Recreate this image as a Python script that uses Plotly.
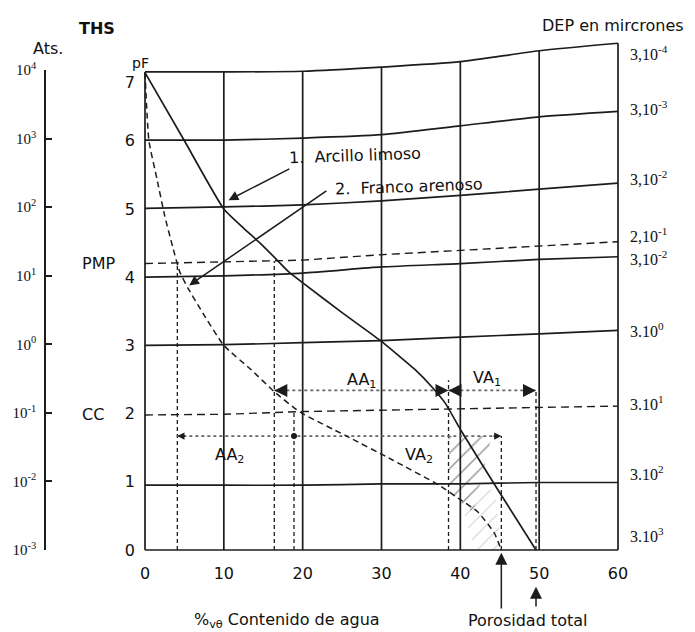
import numpy as np
import plotly.graph_objects as go

# ---------------- data ----------------
grid_x = [0, 10, 20, 30, 40, 50, 60]
x_tick_labels = ["0", "10", "20", "30", "40", "50", "60"]
pf_levels = [0, 1, 2, 3, 4, 5, 6, 7]
pf_tick_labels = ["0", "1", "2", "3", "4", "5", "6", "7"]
ats_labels = ["10<sup>-3</sup>", "10<sup>-2</sup>", "10<sup>-1</sup>", "10<sup>0</sup>",
              "10<sup>1</sup>", "10<sup>2</sup>", "10<sup>3</sup>", "10<sup>4</sup>"]
dep_labels = ["3,10<sup>-4</sup>", "3,10<sup>-3</sup>", "3,10<sup>-2</sup>", "2,10<sup>-1</sup>",
              "3,10<sup>-2</sup>", "3.10<sup>0</sup>", "3.10<sup>1</sup>", "3.10<sup>2</sup>",
              "3.10<sup>3</sup>"]

# reference lines as drawn (pF value of the line at each grid_x)
line_pf7 = [7.01, 7.01, 7.02, 7.08, 7.16, 7.32, 7.43]
line_pf6 = [6.01, 6.01, 6.04, 6.09, 6.22, 6.35, 6.43]
line_pf5 = [5.01, 5.03, 5.06, 5.12, 5.20, 5.29, 5.38]
line_pf4 = [4.00, 4.02, 4.06, 4.15, 4.20, 4.26, 4.30]
line_pf3 = [3.00, 3.01, 3.04, 3.07, 3.12, 3.17, 3.22]
line_pf1 = [0.95, 0.95, 0.95, 0.97, 0.97, 0.99, 0.99]
line_pf0 = [0, 0, 0, 0, 0, 0, 0]
line_pmp = [4.20, 4.22, 4.25, 4.33, 4.39, 4.45, 4.52]
line_cc = [1.98, 1.99, 2.03, 2.05, 2.08, 2.10, 2.11]

# 1. Arcillo limoso (solid)
soil1_x = [0, 5, 10, 12.5, 14.6, 16.6, 18.2, 20.1, 25, 29.75, 34.3, 36.4, 38.1, 40.2, 45, 49.6]
soil1_pf = [7.0, 6.0, 5.0, 4.72, 4.5, 4.27, 4.08, 3.91, 3.48, 3.08, 2.64, 2.39, 2.15, 1.73, 0.84, 0.0]
# 2. Franco arenoso (dashed)
soil2_x = [0, 0.5, 1.5, 2.5, 3.5, 4.4, 5.5, 7.1, 10, 13.5, 16.4, 19.7, 25.4, 31.4, 37.3, 40.1, 42.2, 44.3, 45.2]
soil2_pf = [7.0, 6.0, 5.45, 4.9, 4.45, 4.08, 3.83, 3.52, 3.0, 2.64, 2.32, 2.02, 1.68, 1.32, 0.95, 0.73, 0.56, 0.25, 0.0]

# water contents (%) at PMP, CC and total porosity
soil1_pmp, soil1_cc, soil1_pt = 16.4, 38.5, 49.6
soil2_pmp, soil2_cc, soil2_pt = 4.1, 18.9, 45.2
level_1 = 2.34   # AA1 / VA1 arrows (pF)
level_2 = 1.67   # AA2 / VA2 arrows (pF)

# ---------------- figure ----------------
INK = "#1c1c1c"
OFF = 8                       # page body margin
W, H = 695 - OFF, 632 - OFF   # figure size so that it fills the window
X0PX, X60PX = 145 - OFF, 618 - OFF
PF0PX, PXPF = 550 - OFF, 68.2
pxu = (X60PX - X0PX) / 60.0
xr = [-X0PX / pxu, (W - X0PX) / pxu]
yr = [-(H - PF0PX) / PXPF, PF0PX / PXPF]

fig = go.Figure()

def seg_trace(xs, ys, width=1.6, dash="solid", color=INK):
    fig.add_trace(go.Scatter(x=xs, y=ys, mode="lines", hoverinfo="skip", showlegend=False,
                             line=dict(color=color, width=width, dash=dash)))

# hatching
fig.add_trace(go.Scatter(
    x=[soil1_cc, 44.0, 41.6, soil1_cc, soil1_cc], y=[level_2, level_2, 0.55, 0.85, level_2],
    mode="lines", fill="toself", line=dict(width=0), hoverinfo="skip", showlegend=False,
    fillcolor="rgba(0,0,0,0)",
    fillpattern=dict(shape="/", size=11, solidity=0.13, fgcolor="#2a2a2a", bgcolor="rgba(0,0,0,0)")))
fig.add_trace(go.Scatter(
    x=[40.0, 44.4, soil2_pt, 41.8, 40.0], y=[0.75, 0.9, 0.0, 0.0, 0.75],
    mode="lines", fill="toself", line=dict(width=0), hoverinfo="skip", showlegend=False,
    fillcolor="rgba(0,0,0,0)",
    fillpattern=dict(shape="/", size=11, solidity=0.09, fgcolor="#999", bgcolor="rgba(0,0,0,0)")))

# horizontal reference lines
for ln in [line_pf7, line_pf6, line_pf5, line_pf4, line_pf3, line_pf1, line_pf0]:
    fig.add_trace(go.Scatter(x=grid_x, y=ln, mode="lines", hoverinfo="skip", showlegend=False,
                             line=dict(color=INK, width=1.7, shape="spline", smoothing=0.6)))
for ln in [line_pmp, line_cc]:
    fig.add_trace(go.Scatter(x=grid_x, y=ln, mode="lines", hoverinfo="skip", showlegend=False,
                             line=dict(color=INK, width=1.4, dash="8px,5px")))

# vertical grid lines up to the curved top line
vx, vy = [], []
for v in grid_x:
    vx += [v, v, None]
    vy += [0, float(np.interp(v, grid_x, line_pf7)), None]
seg_trace(vx, vy, width=1.7)

# drop lines
drops = [
    (soil2_pmp, float(np.interp(soil2_pmp, grid_x, line_pmp))),
    (soil1_pmp, float(np.interp(soil1_pmp, grid_x, line_pmp))),
    (soil2_cc, float(np.interp(soil2_cc, grid_x, line_cc))),
    (soil1_cc, level_1 + 0.15),
    (soil2_pt, level_2),
    (soil1_pt, level_1),
]
dx, dy = [], []
for xv, top in drops:
    dx += [xv, xv, None]
    dy += [0, top, None]
seg_trace(dx, dy, width=1.3, dash="4px,3px")

# dotted arrow lines AA / VA
seg_trace([soil1_pmp, soil1_pt, None, soil2_pmp, soil2_pt],
          [level_1, level_1, None, level_2, level_2], width=1.6, dash="dot", color="#666")
fig.add_trace(go.Scatter(x=[soil2_cc], y=[level_2], mode="markers", hoverinfo="skip", showlegend=False,
                         marker=dict(color=INK, size=6)))

# curves
fig.add_trace(go.Scatter(x=soil1_x, y=soil1_pf, mode="lines", name="1. Arcillo limoso",
                         showlegend=False, line=dict(color=INK, width=1.7, shape="spline", smoothing=0.5)))
fig.add_trace(go.Scatter(x=soil2_x, y=soil2_pf, mode="lines", name="2. Franco arenoso",
                         showlegend=False, line=dict(color=INK, width=1.5, dash="6px,4px",
                                                    shape="spline", smoothing=0.5)))

# invisible trace carrying the Ats axis
fig.add_trace(go.Scatter(x=[None], y=[None], yaxis="y2", showlegend=False, hoverinfo="skip"))

ann = []

def head(xh, yh, direction, big=True):
    ann.append(dict(x=xh, y=yh, ax=xh - direction * 1.2, ay=yh, xref="x", yref="y", axref="x",
                    ayref="y", text="", showarrow=True, arrowhead=2,
                    arrowsize=2.0 if big else 1.1, arrowwidth=1.3, arrowcolor=INK))

head(soil1_pmp, level_1, -1)
head(soil1_cc, level_1, +1)
head(soil1_cc, level_1, -1)
head(soil1_pt, level_1, +1)
head(soil2_pmp, level_2, -1, big=False)
head(soil2_pt, level_2, +1, big=False)

# labelled pointer arrows
ann.append(dict(x=10.6, y=5.13, ax=18.5, ay=5.6, xref="x", yref="y", axref="x", ayref="y",
                text="", showarrow=True, arrowhead=2, arrowsize=1.3, arrowwidth=1.5, arrowcolor=INK))
ann.append(dict(x=5.6, y=3.88, ax=23.2, ay=5.28, xref="x", yref="y", axref="x", ayref="y",
                text="", showarrow=True, arrowhead=2, arrowsize=1.3, arrowwidth=1.5, arrowcolor=INK))
ann.append(dict(x=18.0, y=5.78, xref="x", yref="y", xanchor="left", yanchor="middle",
                text="1.&nbsp; Arcillo limoso", showarrow=False, textangle=-2))
ann.append(dict(x=23.8, y=5.33, xref="x", yref="y", xanchor="left", yanchor="middle",
                text="2.&nbsp; Franco arenoso", showarrow=False, textangle=-2))

# AA / VA labels
for txt, xv, yv in [("AA<sub>1</sub>", 27.4, 2.49), ("VA<sub>1</sub>", 43.4, 2.52),
                    ("AA<sub>2</sub>", 10.7, 1.39), ("VA<sub>2</sub>", 34.75, 1.39)]:
    ann.append(dict(x=xv, y=yv, xref="x", yref="y", text=txt, showarrow=False,
                    xanchor="center", yanchor="middle"))

# porosity arrows
ann.append(dict(x=soil2_pt, y=-0.04, ax=soil2_pt, ay=-0.88, xref="x", yref="y", axref="x", ayref="y",
                text="", showarrow=True, arrowhead=2, arrowsize=1.6, arrowwidth=1.5, arrowcolor=INK))
ann.append(dict(x=soil1_pt, y=-0.54, ax=soil1_pt, ay=-0.85, xref="x", yref="y", axref="x", ayref="y",
                text="", showarrow=True, arrowhead=2, arrowsize=1.6, arrowwidth=1.5, arrowcolor=INK))

# right-hand DEP labels
dep_y = [7.29, 6.48, 5.45, 4.62, 4.28, 3.23, 2.16, 1.13, 0.22]
for txt, yv in zip(dep_labels, dep_y):
    ann.append(dict(x=(628 - OFF) / W, y=yv, xref="paper", yref="y", xanchor="left", yanchor="middle",
                    text=txt, showarrow=False, font=dict(family="Liberation Serif", size=16)))

def ptxt(txt, xpx, ypx, **kw):
    d = dict(x=(xpx - OFF) / W, y=1 - (ypx - OFF) / H, xref="paper", yref="paper", text=txt,
             showarrow=False, xanchor="center", yanchor="middle")
    d.update(kw)
    ann.append(d)

ptxt("<b>THS</b>", 97, 28)
ptxt("Ats.", 48, 49)
ptxt("pF", 140, 63, font=dict(size=14))
ptxt("DEP en mircrones", 613, 25)
ptxt("%<sub>vθ</sub> Contenido de agua", 287, 620)
ptxt("Porosidad total", 527, 620)
ann.append(dict(x=(98 - OFF) / W, y=line_pmp[0], xref="paper", yref="y", text="PMP", showarrow=False,
                xanchor="center", yanchor="middle"))
ann.append(dict(x=(93 - OFF) / W, y=line_cc[0], xref="paper", yref="y", text="CC", showarrow=False,
                xanchor="center", yanchor="middle"))

# the "7" label sits a little below its line in the reference
pf_tick_pos = pf_levels[:-1] + [pf_levels[-1] - 0.15]

fig.update_layout(
    width=W, height=H, autosize=False,
    margin=dict(l=0, r=0, t=0, b=0, pad=0, autoexpand=False),
    paper_bgcolor="white", plot_bgcolor="rgba(0,0,0,0)",
    font=dict(family="DejaVu Sans", size=16, color="#111"),
    showlegend=False,
    annotations=ann,
    xaxis=dict(range=xr, domain=[0, 1], anchor="free", position=(H - PF0PX) / H,
               showgrid=False, zeroline=False, showline=False, ticks="",
               tickmode="array", tickvals=grid_x, ticktext=x_tick_labels, ticklabelstandoff=12,
               fixedrange=True),
    yaxis=dict(range=yr, domain=[0, 1], anchor="free", position=X0PX / W,
               showgrid=False, zeroline=False, showline=False, ticks="",
               tickmode="array", tickvals=pf_tick_pos, ticktext=pf_tick_labels, ticklabelstandoff=10,
               fixedrange=True),
    yaxis2=dict(range=[0, 7], domain=[(H - PF0PX) / H, (H - (70 - OFF)) / H], anchor="free",
                position=(45 - OFF) / W,
                showgrid=False, zeroline=False, showline=True, linecolor=INK, linewidth=1.5,
                ticks="inside", ticklen=6, tickwidth=1.5, tickcolor=INK,
                tickmode="array", tickvals=pf_levels, ticktext=ats_labels, ticklabelstandoff=5,
                tickfont=dict(family="Liberation Serif", size=15), fixedrange=True),
)

fig.write_html("out.html")
